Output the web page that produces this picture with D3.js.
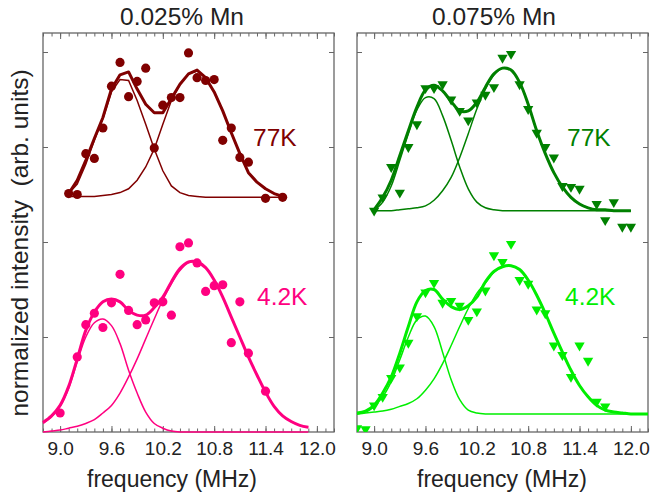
<!DOCTYPE html>
<html>
<head>
<meta charset="utf-8">
<script src="https://cdn.jsdelivr.net/npm/d3@7"></script>
<style>
  body { margin: 0; background: #fff; }
  text { font-family: "Liberation Sans", Arial, sans-serif; }
</style>
</head>
<body>
<svg id="chart" width="651" height="498"></svg>
<script>
// ---- data (intensity in axis units, stacked offset included) ----
// 0.025% Mn, 77 K
const lt77Freq = [9.1,9.2,9.3,9.4,9.5,9.6,9.7,9.8,9.9,10.0,10.1,10.2,10.3,10.4,10.5,10.6,10.7,10.8,10.9,11.0,11.1,11.2,11.4,11.6];
const lt77Int  = [2.51,2.50,2.93,2.88,3.20,3.64,3.89,3.53,3.69,3.83,2.99,3.44,3.52,3.52,3.99,3.73,3.70,3.71,3.07,3.20,2.89,2.84,2.46,2.47];
const lt77FitFreq = [9.1,9.2,9.3,9.4,9.5,9.6,9.7,9.8,9.9,10.0,10.1,10.2,10.3,10.4,10.5,10.6,10.7,10.8,10.9,11.0,11.1,11.2,11.3,11.4,11.5,11.6];
const lt77Sum   = [2.51,2.65,2.86,3.09,3.31,3.61,3.76,3.79,3.61,3.45,3.36,3.36,3.51,3.66,3.77,3.81,3.73,3.58,3.38,3.15,2.93,2.73,2.63,2.56,2.51,2.48];
const lt77Peak1 = [2.51,2.61,2.82,3.07,3.30,3.58,3.71,3.70,3.49,3.24,2.98,2.75,2.59,2.52,2.49,2.48,2.47,2.47,2.47,2.47,2.47,2.47,2.47,2.47,2.47,2.47];
const lt77Peak2 = [2.48,2.48,2.48,2.48,2.49,2.50,2.52,2.56,2.65,2.79,2.98,3.24,3.49,3.66,3.77,3.80,3.73,3.58,3.38,3.15,2.93,2.73,2.63,2.56,2.51,2.48];

// 0.025% Mn, 4.2 K
const lb4Freq = [9.0,9.2,9.3,9.4,9.5,9.6,9.7,9.8,9.9,10.0,10.1,10.2,10.3,10.4,10.5,10.6,10.7,10.8,10.9,11.0,11.1,11.2,11.4];
const lb4Int  = [0.20,0.79,1.13,1.25,1.10,1.36,1.66,1.28,1.13,1.18,1.36,1.37,1.23,1.95,1.99,1.78,1.48,1.54,1.55,0.94,1.37,0.83,0.43];
const lb4FitFreq = [8.8,8.9,9.0,9.1,9.2,9.3,9.4,9.5,9.6,9.7,9.8,9.9,10.0,10.1,10.2,10.3,10.4,10.5,10.6,10.7,10.8,10.9,11.0,11.1,11.2,11.3,11.4,11.5,11.6,11.7,11.8,11.9];
const lb4Sum   = [0.10,0.17,0.28,0.48,0.77,1.07,1.26,1.37,1.40,1.37,1.28,1.23,1.23,1.31,1.42,1.58,1.72,1.79,1.79,1.73,1.60,1.42,1.21,1.00,0.79,0.60,0.42,0.27,0.17,0.11,0.07,0.05];
const lb4Peak1 = [0.09,0.16,0.27,0.46,0.74,1.00,1.15,1.19,1.12,0.93,0.65,0.41,0.21,0.09,0.04,0.01,0,0,0,0,0,0,0,0,0,0,0,0,0,0,0,0];
const lb4Peak2 = [0.00,0.01,0.02,0.04,0.06,0.09,0.13,0.20,0.28,0.41,0.58,0.77,0.98,1.19,1.39,1.56,1.70,1.78,1.79,1.73,1.60,1.42,1.21,1.00,0.79,0.60,0.42,0.27,0.17,0.11,0.07,0.05];

// 0.075% Mn, 77 K
const rt77Freq = [9.0,9.1,9.2,9.3,9.4,9.5,9.6,9.7,9.8,9.9,10.0,10.1,10.2,10.3,10.4,10.5,10.6,10.7,10.8,10.9,11.0,11.1,11.2,11.3,11.4,11.6,11.7,11.8,11.9,12.0];
const rt77Int  = [2.33,2.47,2.79,2.52,3.00,3.24,3.62,3.62,3.66,3.50,3.38,3.28,3.47,3.55,3.63,3.94,3.98,3.66,3.40,3.15,3.00,2.89,2.59,2.58,2.56,2.40,2.23,2.42,2.16,2.16];
const rt77FitFreq = [9.0,9.1,9.2,9.3,9.4,9.5,9.6,9.7,9.8,9.9,10.0,10.1,10.2,10.3,10.4,10.5,10.6,10.7,10.8,10.9,11.0,11.1,11.2,11.3,11.4,11.5,11.6,11.7,11.8,11.9,12.0];
const rt77Sum   = [2.34,2.47,2.65,2.91,3.17,3.42,3.60,3.65,3.59,3.48,3.38,3.38,3.47,3.63,3.77,3.83,3.81,3.68,3.45,3.17,2.93,2.73,2.58,2.47,2.40,2.36,2.34,2.34,2.33,2.33,2.33];
const rt77Peak1 = [2.33,2.42,2.59,2.86,3.14,3.39,3.52,3.51,3.33,3.07,2.79,2.56,2.42,2.36,2.34,2.33,2.33,2.33,2.33,2.33,2.33,2.33,2.33,2.33,2.33,2.33,2.33,2.33,2.33,2.33,2.33];
const rt77Peak2 = [2.33,2.33,2.33,2.34,2.35,2.36,2.38,2.44,2.54,2.68,2.89,3.14,3.40,3.61,3.76,3.83,3.81,3.68,3.45,3.17,2.93,2.73,2.58,2.47,2.40,2.36,2.34,2.34,2.33,2.33,2.33];

// 0.075% Mn, 4.2 K
const rb4Freq = [8.8,8.9,9.0,9.1,9.2,9.3,9.4,9.5,9.6,9.7,9.8,9.9,10.0,10.1,10.2,10.3,10.4,10.5,10.6,10.7,10.8,10.9,11.0,11.1,11.2,11.3,11.4,11.5,11.6,11.7];
const rb4Int  = [0.04,0.03,0.28,0.37,0.57,0.68,0.94,1.22,1.47,1.57,1.36,1.38,1.33,1.18,1.27,1.49,1.86,1.79,1.98,1.60,1.56,1.29,1.25,0.91,0.81,0.58,0.91,0.75,0.32,0.27];
const rb4FitFreq = [8.8,8.9,9.0,9.1,9.2,9.3,9.4,9.5,9.6,9.7,9.8,9.9,10.0,10.1,10.2,10.3,10.4,10.5,10.6,10.7,10.8,10.9,11.0,11.1,11.2,11.3,11.4,11.5,11.6,11.7,11.8,11.9,12.0,12.1,12.2];
const rb4Sum   = [0.20,0.22,0.28,0.41,0.58,0.83,1.11,1.37,1.49,1.50,1.40,1.32,1.29,1.33,1.42,1.58,1.69,1.74,1.75,1.71,1.60,1.44,1.25,1.04,0.84,0.65,0.49,0.37,0.28,0.23,0.21,0.20,0.19,0.19,0.19];
const rb4Peak1 = [0.19,0.21,0.27,0.37,0.53,0.76,1.00,1.18,1.22,1.11,0.84,0.55,0.34,0.23,0.20,0.19,0.19,0.19,0.19,0.19,0.19,0.19,0.19,0.19,0.19,0.19,0.19,0.19,0.19,0.19,0.19,0.19,0.19,0.19,0.19];
const rb4Peak2 = [0.19,0.20,0.21,0.22,0.24,0.27,0.30,0.35,0.44,0.56,0.72,0.91,1.11,1.30,1.46,1.57,1.68,1.74,1.75,1.71,1.60,1.44,1.25,1.04,0.84,0.65,0.49,0.37,0.28,0.23,0.21,0.20,0.19,0.19,0.19];

const majorTicks = [9.0, 9.6, 10.2, 10.8, 11.4, 12.0];
const yTicks = [1, 2, 3, 4];

// ---- layout ----
const plotTop = 33, plotBottom = 432;
const svg = d3.select("#chart");
const y = d3.scaleLinear().domain([0, 4.2]).range([plotBottom, plotTop]);
const minorTicks = d3.range(88, 123).map(d => d / 10);

const panels = [
  {
    x0: 43, x1: 334, title: "0.025% Mn", titleX: 182, xlabX: 172, marker: "circle",
    series: [
      {label: "77K", color: "#800000", lx: 253, ly: 146, curve: d3.curveLinear,
       freq: lt77Freq, val: lt77Int, fit: lt77FitFreq, sum: lt77Sum, p1: lt77Peak1, p2: lt77Peak2},
      {label: "4.2K", color: "#ff0080", lx: 257, ly: 305, curve: d3.curveCatmullRom,
       freq: lb4Freq, val: lb4Int, fit: lb4FitFreq, sum: lb4Sum, p1: lb4Peak1, p2: lb4Peak2}
    ]
  },
  {
    x0: 357, x1: 648, title: "0.075% Mn", titleX: 494, xlabX: 502, marker: "triangle",
    series: [
      {label: "77K", color: "#008000", lx: 567, ly: 146, curve: d3.curveCatmullRom,
       freq: rt77Freq, val: rt77Int, fit: rt77FitFreq, sum: rt77Sum, p1: rt77Peak1, p2: rt77Peak2},
      {label: "4.2K", color: "#00ee00", lx: 565, ly: 305, curve: d3.curveCatmullRom,
       freq: rb4Freq, val: rb4Int, fit: rb4FitFreq, sum: rb4Sum, p1: rb4Peak1, p2: rb4Peak2}
    ]
  }
];

const axisColor = "#666";

panels.forEach((p, i) => {
  const x = d3.scaleLinear().domain([8.8, 12.2]).range([p.x0, p.x1]);
  const g = svg.append("g");

  g.append("clipPath").attr("id", "clip" + i)
    .append("rect").attr("x", p.x0).attr("y", plotTop).attr("width", p.x1 - p.x0).attr("height", plotBottom - plotTop);

  // ticks, all pointing inward
  const axes = g.append("g").attr("color", axisColor);
  axes.append("g").attr("transform", `translate(0,${plotBottom})`)
    .call(d3.axisBottom(x).tickValues(minorTicks).tickSize(-3.5).tickFormat(""));
  axes.append("g").attr("transform", `translate(0,${plotTop})`)
    .call(d3.axisTop(x).tickValues(minorTicks).tickSize(-3.5).tickFormat(""));
  axes.append("g").attr("transform", `translate(0,${plotTop})`)
    .call(d3.axisTop(x).tickValues(majorTicks).tickSize(-6).tickFormat(""));
  const xb = axes.append("g").attr("transform", `translate(0,${plotBottom})`)
    .call(d3.axisBottom(x).tickValues(majorTicks).tickSize(-6).tickPadding(10).tickFormat(d3.format(".1f")));
  xb.selectAll("text").attr("font-size", 19).attr("fill", "#222")
    .style("font-family", '"Liberation Sans", Arial, sans-serif');
  axes.append("g").attr("transform", `translate(${p.x0},0)`)
    .call(d3.axisLeft(y).tickValues(yTicks).tickSize(-5).tickFormat(""));
  axes.append("g").attr("transform", `translate(${p.x1},0)`)
    .call(d3.axisRight(y).tickValues(yTicks).tickSize(-5).tickFormat(""));
  axes.selectAll(".domain").remove();
  axes.selectAll(".tick line").attr("stroke-width", 1);

  g.append("rect")
    .attr("x", p.x0).attr("y", plotTop)
    .attr("width", p.x1 - p.x0).attr("height", plotBottom - plotTop)
    .attr("fill", "none").attr("stroke", axisColor).attr("stroke-width", 1.3);

  p.series.forEach(s => {
    const line = d3.line().x(d => x(d[0])).y(d => y(d[1])).curve(s.curve);
    [s.p1, s.p2].forEach(c => {
      g.append("path").datum(d3.zip(s.fit, c)).attr("d", line)
        .attr("fill", "none").attr("stroke", s.color).attr("stroke-width", 1.5);
    });
    g.append("path").datum(d3.zip(s.fit, s.sum)).attr("d", line)
      .attr("fill", "none").attr("stroke", s.color).attr("stroke-width", 3)
      .attr("stroke-linejoin", "round");

    const pts = g.append("g").attr("clip-path", `url(#clip${i})`)
      .selectAll("path").data(d3.zip(s.freq, s.val)).join("path")
      .attr("fill", s.color);
    if (p.marker === "circle") {
      pts.attr("d", d3.symbol(d3.symbolCircle, 66))
        .attr("transform", d => `translate(${x(d[0])},${y(d[1])})`);
    } else {
      pts.attr("d", d3.symbol(d3.symbolTriangle, 46))
        .attr("transform", d => `translate(${x(d[0])},${y(d[1])}) rotate(180)`);
    }

    g.append("text").attr("x", s.lx).attr("y", s.ly)
      .attr("font-size", 24.5).attr("fill", s.color).text(s.label);
  });

  g.append("text").attr("x", p.titleX).attr("y", 25)
    .attr("text-anchor", "middle").attr("font-size", 24.5).attr("fill", "#222")
    .text(p.title);
  g.append("text").attr("x", p.xlabX).attr("y", 487)
    .attr("text-anchor", "middle").attr("font-size", 23).attr("fill", "#222")
    .text("frequency (MHz)");
});

svg.append("text")
  .attr("transform", "translate(28,243) rotate(-90)")
  .attr("text-anchor", "middle").attr("font-size", 24.5).attr("fill", "#222")
  .style("white-space", "pre")
  .text("normalized intensity  (arb. units)");
</script>
</body>
</html>
